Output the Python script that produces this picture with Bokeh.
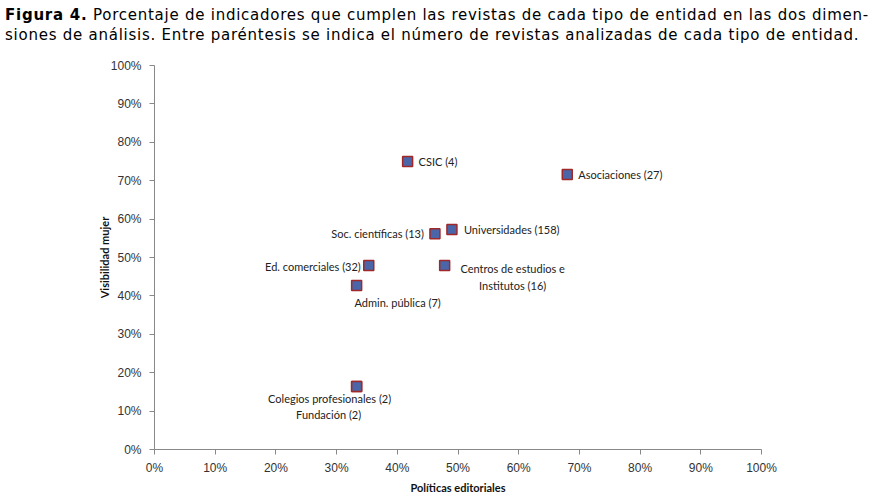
from bokeh.plotting import figure
from bokeh.models import Div, FixedTicker, NumeralTickFormatter, Label, ColumnDataSource
from bokeh.layouts import column
from bokeh.embed import file_html
from bokeh.resources import INLINE

# ---- data ----
entities = ["CSIC (4)", "Asociaciones (27)", "Soc. científicas (13)", "Universidades (158)",
            "Ed. comerciales (32)", "Centros de estudios e\nInstitutos (16)", "Admin. pública (7)",
            "Colegios profesionales (2)", "Fundación (2)"]
politicas = [0.417, 0.680, 0.462, 0.490, 0.353, 0.478, 0.333, 0.333, 0.333]
visibilidad = [0.750, 0.716, 0.562, 0.573, 0.479, 0.479, 0.427, 0.164, 0.164]
tick_values = [i / 10 for i in range(11)]

# label placement (screen px: dx right, dy down, text align)
label_style = [
    (11, 0, "left"), (11, 0, "left"), (-11, 0, "right"), (12, 0, "left"),
    (-8, 1, "right"), (68, 3, "center"), (41, 17, "center"), (-27, 12, "center"), (-28, 28, "center"),
]

title = Div(
    text=("<b>Figura 4.</b> Porcentaje de indicadores que cumplen las revistas de cada tipo de entidad en las dos dimen-<br>"
          "siones de análisis. Entre paréntesis se indica el número de revistas analizadas de cada tipo de entidad."),
    width=874, height=40,
    styles={"font-family": "DejaVu Sans", "font-size": "15px", "line-height": "20px", "color": "#000",
            "letter-spacing": "0.75px", "white-space": "nowrap"},
)

p = figure(frame_width=607, frame_height=384, x_range=(0, 1), y_range=(0, 1),
           output_backend="svg", toolbar_location=None,
           min_border_left=154, min_border_right=113, min_border_top=15, min_border_bottom=40)
p.outline_line_color = None
p.grid.grid_line_color = None

src = ColumnDataSource(dict(x=politicas, y=visibilidad, name=entities))
p.scatter("x", "y", source=src, marker="square", size=10, fill_color="#4A66A8",
          line_color="#A02828", line_width=1.5)

for name, x, y, (dx, dy, align) in zip(entities, politicas, visibilidad, label_style):
    lines = name.split("\n")
    for k, ln in enumerate(lines):
        p.add_layout(Label(x=x, y=y, x_offset=dx, y_offset=-(dy + 17 * k), text=ln,
                           text_align=align, text_baseline="middle",
                           text_font="Lato", text_font_size="11px", text_color="#222222"))

for ax in (p.xaxis[0], p.yaxis[0]):
    ax.ticker = FixedTicker(ticks=tick_values)
    ax.formatter = NumeralTickFormatter(format="0%")
    ax.axis_line_color = "#888888"
    ax.major_tick_line_color = "#888888"
    ax.major_tick_out = 5
    ax.major_tick_in = 0
    ax.minor_tick_line_color = None
    ax.major_label_text_font = "Liberation Sans"
    ax.major_label_text_font_size = "12px"
    ax.major_label_text_color = "#333333"
    ax.axis_label_text_font = "Lato"
    ax.axis_label_text_font_style = "bold"
    ax.axis_label_text_font_size = "11px"
    ax.axis_label_text_color = "#111111"

p.xaxis.axis_label = "Políticas editoriales"
p.yaxis.axis_label = "Visibilidad mujer"
p.xaxis.major_label_standoff = 6
p.yaxis.major_label_standoff = 8
p.xaxis.axis_label_standoff = 3
p.yaxis.axis_label_standoff = -3

layout = column(title, p, spacing=0)
open("out.html", "w").write(file_html(layout, INLINE))
